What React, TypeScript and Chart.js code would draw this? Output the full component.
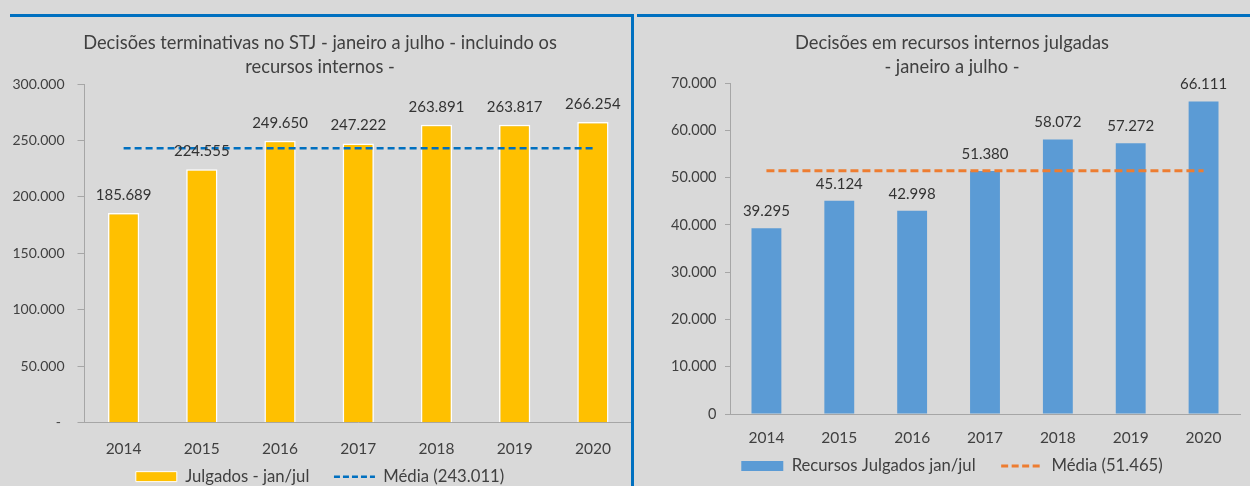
import React, { useEffect, useRef } from 'react';
import { Chart, registerables } from 'chart.js';

Chart.register(...registerables);

// ---------- data ----------
const years = ['2014', '2015', '2016', '2017', '2018', '2019', '2020'];

const julgados = [185689, 224555, 249650, 247222, 263891, 263817, 266254];
const mediaJulgados = [243011, 243011, 243011, 243011, 243011, 243011, 243011];

const recursos = [39295, 45124, 42998, 51380, 58072, 57272, 66111];
const mediaRecursos = [51465, 51465, 51465, 51465, 51465, 51465, 51465];

const leftTitle = ['Decisões terminativas no STJ - janeiro a julho - incluindo os', 'recursos internos -'];
const rightTitle = ['Decisões em recursos internos julgadas', '- janeiro a julho -'];

const leftLegend = ['Julgados - jan/jul', 'Média (243.011)'];
const rightLegend = ['Recursos Julgados jan/jul', 'Média (51.465)'];

const leftAxisMax = 300000;
const leftAxisStep = 50000;
const rightAxisMax = 70000;
const rightAxisStep = 10000;

// ---------- helpers ----------
const FONT = 'Lato';
const TEXT = '#404040';
const AXIS = '#a6a6a6';

const fmt = (v: number) => String(Math.round(v)).replace(/\B(?=(\d{3})+(?!\d))/g, '.');

const valueLabels = {
  id: 'valueLabels',
  afterDatasetsDraw(chart: any, _args: any, opts: any) {
    const ctx = chart.ctx;
    const idx = chart.data.datasets.findIndex((d: any) => d.type === 'bar');
    if (idx < 0) return;
    const meta = chart.getDatasetMeta(idx);
    const data = chart.data.datasets[idx].data;
    ctx.save();
    ctx.font = `${opts.size}px ${FONT}`;
    ctx.fillStyle = opts.color;
    ctx.textAlign = 'center';
    ctx.textBaseline = 'middle';
    meta.data.forEach((el: any, i: number) => {
      ctx.fillText(fmt(data[i]), el.x, el.y - opts.offset);
    });
    ctx.restore();
  },
};

function makeConfig(p: any) {
  return {
    type: 'bar',
    data: {
      labels: years,
      datasets: [
        {
          type: 'line',
          label: p.legend[1],
          data: p.mean,
          borderColor: p.lineColor,
          borderWidth: p.lineWidth,
          borderDash: p.dash,
          pointRadius: 0,
          fill: false,
          order: 0,
        },
        {
          type: 'bar',
          label: p.legend[0],
          data: p.values,
          backgroundColor: p.barColor,
          borderColor: '#ffffff',
          borderWidth: p.barBorder,
          barPercentage: p.barPct,
          categoryPercentage: 1,
          order: 1,
        },
      ],
    },
    options: {
      responsive: false,
      animation: false,
      events: [],
      layout: { padding: p.layoutPadding },
      scales: {
        x: {
          grid: { display: false, drawTicks: false },
          border: { display: true, color: AXIS, width: 1 },
          ticks: {
            color: TEXT,
            font: { family: FONT, size: 15.5 },
            mirror: true,
            padding: p.xPad,
          },
          afterFit: (s: any) => { s.height = p.xHeight; },
        },
        y: {
          min: 0,
          max: p.max,
          ticks: {
            stepSize: p.step,
            color: TEXT,
            font: { family: FONT, size: p.yFont },
            padding: p.yPad,
            callback: (v: any) => (v === 0 ? p.zero : fmt(v)),
          },
          grid: { drawOnChartArea: false, drawTicks: true, tickLength: p.tickLen, color: AXIS },
          border: { display: true, color: AXIS, width: 1 },
          afterFit: (s: any) => { s.width = p.yWidth; },
        },
      },
      plugins: {
        tooltip: { enabled: false },
        title: {
          display: true,
          text: p.title,
          color: TEXT,
          font: { family: FONT, size: 18.3, weight: 'normal', lineHeight: '24px' },
          padding: { top: 31, bottom: p.titleBottom },
        },
        legend: {
          display: true,
          position: 'bottom',
          labels: {
            usePointStyle: true,
            pointStyleWidth: p.legendBox,
            boxHeight: 10,
            padding: p.legendPad,
            color: TEXT,
            font: { family: FONT, size: 16.7 },
            generateLabels: () => [
              {
                text: p.legend[0],
                fillStyle: p.barColor,
                strokeStyle: '#ffffff',
                lineWidth: p.barBorder > 0 ? 1 : 0,
                pointStyle: 'rect',
                hidden: false,
                datasetIndex: 1,
                fontColor: TEXT,
              },
              {
                text: p.legend[1],
                fillStyle: 'rgba(0,0,0,0)',
                strokeStyle: p.lineColor,
                lineWidth: p.lineWidth,
                lineDash: p.legendDash,
                pointStyle: 'line',
                hidden: false,
                datasetIndex: 0,
                fontColor: TEXT,
              },
            ],
          },
        },
        valueLabels: { size: 15, color: '#333333', offset: p.labelOffset },
      },
    },
    plugins: [valueLabels],
  } as any;
}

export default function App() {
  const leftRef = useRef<HTMLCanvasElement>(null);
  const rightRef = useRef<HTMLCanvasElement>(null);

  useEffect(() => {
    const left = new Chart(
      leftRef.current as HTMLCanvasElement,
      makeConfig({
        values: julgados,
        mean: mediaJulgados,
        legend: leftLegend,
        title: leftTitle,
        max: leftAxisMax,
        step: leftAxisStep,
        zero: '- ',
        barColor: '#FFC000',
        barBorder: 1.5,
        barPct: 0.4,
        lineColor: '#0070C0',
        lineWidth: 2.5,
        dash: [7, 4],
        legendDash: [6, 3],
        layoutPadding: { left: 8, right: 0, top: 0, bottom: 0 },
        titleBottom: 5,
        yWidth: 76.5,
        yFont: 14,
        yPad: 13,
        tickLen: 7,
        xHeight: 21,
        xPad: -35.3,
        legendPad: 24.6,
        legendBox: 41,
        labelOffset: 18,
      })
    );
    const right = new Chart(
      rightRef.current as HTMLCanvasElement,
      makeConfig({
        values: recursos,
        mean: mediaRecursos,
        legend: rightLegend,
        title: rightTitle,
        max: rightAxisMax,
        step: rightAxisStep,
        zero: '0',
        barColor: '#5B9BD5',
        barBorder: 0,
        barPct: 0.41,
        lineColor: '#ED7D31',
        lineWidth: 3,
        dash: [8, 4],
        legendDash: [7, 3.5],
        layoutPadding: { left: 28, right: 10, top: 0, bottom: 10.6 },
        titleBottom: 4,
        yWidth: 66,
        yFont: 14.5,
        yPad: 8.5,
        tickLen: 5,
        xHeight: 18,
        xPad: -33.3,
        legendPad: 25.6,
        legendBox: 42,
        labelOffset: 17,
      })
    );
    return () => {
      left.destroy();
      right.destroy();
    };
  }, []);

  return (
    <div
      style={{
        position: 'absolute',
        left: 0,
        top: 0,
        width: 1250,
        height: 486,
        overflow: 'hidden',
        background: '#d9d9d9',
      }}
    >
      <canvas
        ref={leftRef}
        width={632}
        height={495}
        style={{ position: 'absolute', left: 0, top: 0, width: 632, height: 495, display: 'block' }}
      />
      <canvas
        ref={rightRef}
        width={614}
        height={495}
        style={{ position: 'absolute', left: 636, top: 0, width: 614, height: 495, display: 'block' }}
      />
      <div style={{ position: 'absolute', left: 10, top: 14, width: 623, height: 3, background: '#0070C0' }} />
      <div style={{ position: 'absolute', left: 631, top: 14, width: 3, height: 472, background: '#0070C0' }} />
      <div style={{ position: 'absolute', left: 637, top: 14, width: 613, height: 3, background: '#0070C0' }} />
    </div>
  );
}
